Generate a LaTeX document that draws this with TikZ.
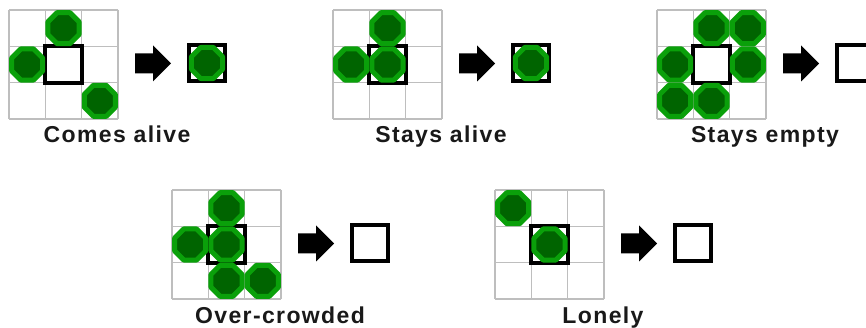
\documentclass[tikz,border=0pt]{standalone}
\usepackage{fontspec}
\setmainfont{Liberation Sans}
\newfontfamily\lblfont[LetterSpace=6]{Liberation Sans}
\definecolor{gridgray}{RGB}{190,190,190}
\definecolor{ringgreen}{RGB}{10,160,10}
\definecolor{cellgreen}{RGB}{0,100,0}
\definecolor{txt}{RGB}{25,25,25}
\tikzset{
  gridline/.style={draw=gridgray, line width=1.5},
  boldbox/.style={draw=black, line width=3.8},
  resbox/.style={draw=black, line width=4.2},
  ring/.style={draw=ringgreen, fill=cellgreen, line width=5, line join=round},
  blockarrow/.style={fill=black},
  lbl/.style={anchor=base, text=txt, inner sep=0,
    font=\lblfont\bfseries\fontsize{23}{27}\selectfont},
}
\newcommand\octo[2]{%
  \draw[ring] (#1,#2) +(22.5:16.8) -- +(67.5:16.8) -- +(112.5:16.8) -- +(157.5:16.8)
    -- +(202.5:16.8) -- +(247.5:16.8) -- +(292.5:16.8) -- +(337.5:16.8) -- cycle;}
\newcommand\lifepanel[6]{%
  \begin{scope}[shift={(#2,#3)}]
    \foreach \k in {0,1,2,3} {
      \draw[gridline] (\k*36.33,0) -- (\k*36.33,109);
      \draw[gridline] (0,\k*36.33) -- (109,\k*36.33);
    }
    \draw[boldbox] (36.33,36.33) rectangle (72.67,72.67);
    \foreach \i/\j in {#4} { \octo{18.17+36.33*\i}{18.17+36.33*\j} }
    \draw[resbox] (180,35) rectangle (216,71);
    \ifnum#5=1 \octo{198}{53}\fi
    \fill[blockarrow] (126,43.5) -- (144,43.5) -- (144,35.5) -- (162,53.5)
      -- (144,71.5) -- (144,63.5) -- (126,63.5) -- cycle;
    \node[lbl] (#1) at (108,133) {#6};
  \end{scope}}
\begin{document}
\begin{tikzpicture}[x=1pt,y=-1pt]
  \useasboundingbox (0,0) rectangle (866,328);
  \fill[white] (0,0) rectangle (866,328);
  \lifepanel{comes}{9}{10}{1/0,0/1,2/2}{1}{Comes alive}
  \lifepanel{stays}{333}{10}{1/0,0/1,1/1}{1}{Stays alive}
  \lifepanel{empty}{657}{10}{1/0,2/0,0/1,2/1,0/2,1/2}{0}{Stays empty}
  \lifepanel{crowd}{172}{190}{1/0,0/1,1/1,1/2,2/2}{0}{Over-crowded}
  \lifepanel{lonely}{495}{190}{0/0,1/1}{0}{Lonely}
\end{tikzpicture}
\end{document}
